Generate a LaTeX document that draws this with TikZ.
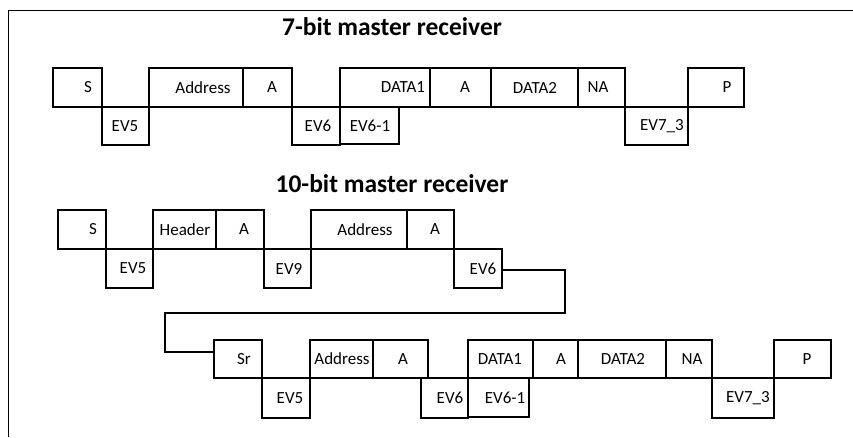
\documentclass[tikz,border=0pt]{standalone}
\usepackage{fontspec}
\setmainfont{Carlito}
\usetikzlibrary{calc}
\tikzset{
  box/.style={draw, line width=1.5pt, inner sep=0pt, outer sep=0pt},
  lbl/.style={inner sep=0pt, font=\fontsize{17}{19}\selectfont},
  ttl/.style={inner sep=0pt, font=\fontsize{25.5}{28}\selectfont\bfseries},
  wire/.style={draw, line width=1.2pt},
  frame/.style={draw, line width=1pt}
}
\newcommand\bx[7]{%
  \node[box, minimum width={(#4-#2)*1pt}, minimum height={(#5-#3)*1pt}] (#1) at ({(#2+#4)/2},{(#3+#5)/2}) {};
  \node[lbl] (#1t) at (#7,{(#3+#5)/2}) {#6};
}
\begin{document}
\begin{tikzpicture}[x=1pt,y=-1pt]
\useasboundingbox (0,0) rectangle (853,437);
\draw[frame] (853,10) -- (8,10) -- (8,437);
\node[ttl] (t1) at (392,27) {7-bit master receiver};
\node[ttl] (t2) at (392,184) {10-bit master receiver};
% row 1
\bx{aS}{53}{68}{102}{107}{S}{88}
\bx{aEVa}{102}{107}{149}{145}{EV5}{125}
\bx{aAd}{149}{68}{243}{107}{Address}{203}
\bx{aA}{243}{68}{292}{107}{A}{272}
\bx{aEVb}{292}{107}{340}{145}{EV6}{318}
\bx{aDa}{340}{68}{430}{107}{DATA1}{403}
\bx{aEVc}{340}{107}{399}{144}{EV6-1}{370}
\bx{aAb}{430}{68}{491}{107}{A}{465}
\bx{aDb}{491}{68}{578}{107}{DATA2}{535}
\bx{aNA}{578}{68}{625}{107}{NA}{598}
\bx{aEVd}{625}{107}{688}{145}{EV7\_3}{662}
\bx{aP}{688}{68}{744}{107}{P}{727}
% row 2
\bx{bS}{58}{210}{106}{249}{S}{93}
\bx{bEVa}{106}{249}{153}{288}{EV5}{133}
\bx{bH}{153}{210}{216}{249}{Header}{185}
\bx{bA}{216}{210}{264}{249}{A}{244}
\bx{bEVb}{264}{249}{311}{288}{EV9}{289}
\bx{bAd}{311}{210}{407}{249}{Address}{365}
\bx{bAb}{407}{210}{454}{249}{A}{435}
\bx{bEVc}{454}{249}{502}{288}{EV6}{483}
% row 3
\bx{cSr}{214}{340}{262}{378}{Sr}{244}
\bx{cEVa}{262}{378}{310}{418}{EV5}{290}
\bx{cAd}{310}{340}{373}{378}{Address}{342}
\bx{cA}{373}{340}{428}{378}{A}{403}
\bx{cEVb}{421}{378}{468}{418}{EV6}{450}
\bx{cDa}{468}{340}{533}{378}{DATA1}{500}
\bx{cEVc}{468}{378}{529}{417}{EV6-1}{505}
\bx{cAb}{533}{340}{578}{378}{A}{561}
\bx{cDb}{578}{340}{666}{378}{DATA2}{623}
\bx{cNA}{666}{340}{712}{378}{NA}{692}
\bx{cEVd}{712}{378}{774}{418}{EV7\_3}{748}
\bx{cP}{774}{340}{831}{378}{P}{807}
% connector
\coordinate (k1) at (565,313);
\coordinate (k2) at (165,313);
\draw[wire] ([yshift=-1.5pt]bEVc.east) -| (k1) -- (k2) |- ([yshift=7pt]cSr.west);
\end{tikzpicture}
\end{document}
